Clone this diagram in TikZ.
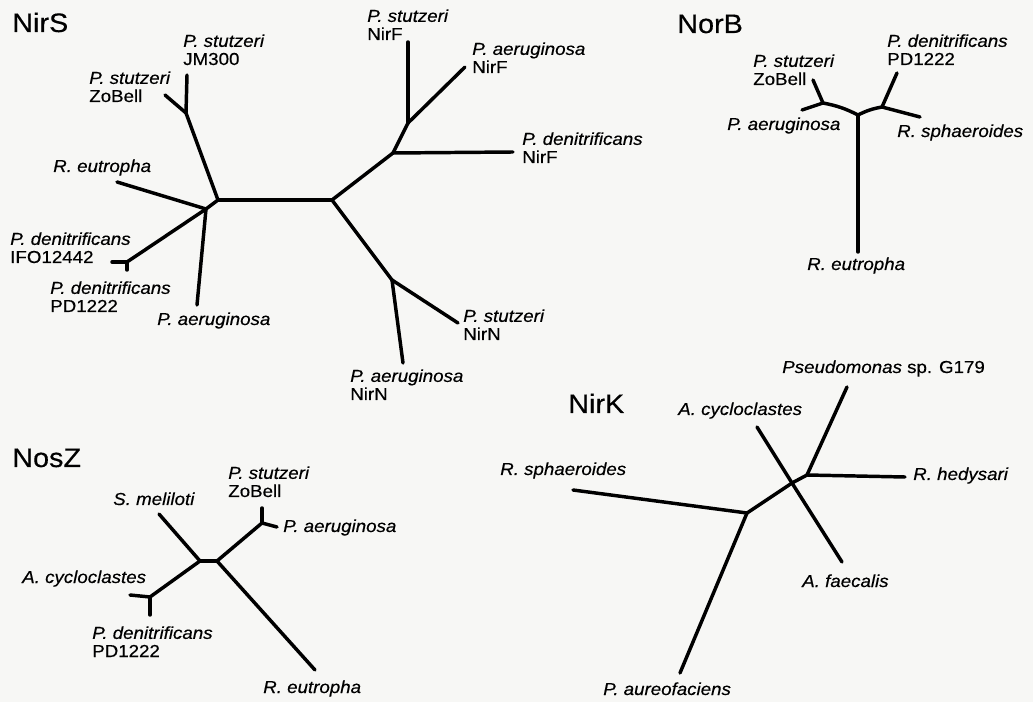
\documentclass[tikz,border=0pt]{standalone}
\usepackage{fontspec}
\setmainfont[FakeStretch=1.08,FakeBold=0.4]{Liberation Sans}
\definecolor{paper}{RGB}{247,247,245}
\begin{document}
\begin{tikzpicture}[x=0.75pt,y=-0.75pt,
  branch/.style={line width=2.6pt, line cap=round, line join=round},
  sp/.style={anchor=base west, inner sep=0pt, align=left,
    font=\fontsize{13}{13.6}\selectfont},
  title/.style={anchor=base west, inner sep=0pt,
    font=\fontsize{20}{22}\selectfont}]
\fill[paper] (0,0) rectangle (1033,702);
\useasboundingbox (0,0) rectangle (1033,702);

% ---------------- NirS ----------------
\node[title] (tNirS) at (12,32) {NirS};
\coordinate (A) at (218,200);
\coordinate (B) at (206,209);
\coordinate (C) at (332,200);
\coordinate (Sj) at (186,113);
\coordinate (tJM) at (187,75);
\coordinate (tZo) at (165,95);
\coordinate (tRe) at (117,182);
\coordinate (Dj) at (127,262);
\coordinate (tIFO) at (112,262);
\coordinate (tPD) at (127,270);
\coordinate (tPa) at (197,305);
\coordinate (D) at (393,153);
\coordinate (tDnF) at (513,152);
\coordinate (E) at (408,123);
\coordinate (tSnF) at (408,42);
\coordinate (tPanF) at (465,67);
\coordinate (F) at (392,280);
\coordinate (tSnN) at (458,323);
\coordinate (tPaN) at (403,363);
\draw[branch] (A) -- (C);
\draw[branch] (A) -- (B);
\draw[branch] (A) -- (Sj);
\draw[branch] (Sj) -- (tJM);
\draw[branch] (Sj) -- (tZo);
\draw[branch] (B) -- (tRe);
\draw[branch] (B) -- (Dj);
\draw[branch] (Dj) -- (tIFO);
\draw[branch] (Dj) -- (tPD);
\draw[branch] (B) -- (tPa);
\draw[branch] (C) -- (D);
\draw[branch] (D) -- (tDnF);
\draw[branch] (D) -- (E);
\draw[branch] (E) -- (tSnF);
\draw[branch] (E) -- (tPanF);
\draw[branch] (C) -- (F);
\draw[branch] (F) -- (tSnN);
\draw[branch] (F) -- (tPaN);
% two-line labels are placed by the baseline of their second line
\node[sp] (lJM) at (183,65) {\textit{P. stutzeri}\\JM300};
\node[sp] (lZo) at (89,102) {\textit{P. stutzeri}\\ZoBell};
\node[sp] (lRe) at (53,172) {\textit{R. eutropha}};
\node[sp] (lIFO) at (10,263) {\textit{P. denitrificans}\\IFO12442};
\node[sp] (lPD) at (50,312) {\textit{P. denitrificans}\\PD1222};
\node[sp] (lPa) at (157,325) {\textit{P. aeruginosa}};
\node[sp] (lSnF) at (367,40) {\textit{P. stutzeri}\\NirF};
\node[sp] (lPanF) at (472,73) {\textit{P. aeruginosa}\\NirF};
\node[sp] (lDnF) at (522,163) {\textit{P. denitrificans}\\NirF};
\node[sp] (lSnN) at (463,340) {\textit{P. stutzeri}\\NirN};
\node[sp] (lPaN) at (350,400) {\textit{P. aeruginosa}\\NirN};

% ---------------- NorB ----------------
\node[title] (tNorB) at (677,33) {NorB};
\coordinate (G) at (858,115);
\coordinate (tRe2) at (858,252);
\coordinate (H) at (823,103);
\coordinate (tZo2) at (813,80);
\coordinate (tPa2) at (802,110);
\coordinate (I) at (882,107);
\coordinate (tPD2) at (897,73);
\coordinate (tRs2) at (920,117);
\draw[branch] (G) -- (tRe2);
\draw[branch] (G) to[bend right=8] (H);
\draw[branch] (G) to[bend left=8] (I);
\draw[branch] (H) -- (tZo2);
\draw[branch] (H) -- (tPa2);
\draw[branch] (I) -- (tPD2);
\draw[branch] (I) -- (tRs2);
\node[sp] (lZo2) at (753,85) {\textit{P. stutzeri}\\ZoBell};
\node[sp] (lPD2) at (887,65) {\textit{P. denitrificans}\\PD1222};
\node[sp] (lPa2) at (727,130) {\textit{P. aeruginosa}};
\node[sp] (lRs2) at (897,137) {\textit{R. sphaeroides}};
\node[sp] (lRe2) at (807,270) {\textit{R. eutropha}};

% ---------------- NosZ ----------------
\node[title] (tNosZ) at (12,467) {NosZ};
\coordinate (J) at (200,561);
\coordinate (K) at (217,561);
\coordinate (tSm) at (159,514);
\coordinate (L) at (150,597);
\coordinate (tAc) at (130,595);
\coordinate (tPD3) at (150,615);
\coordinate (M) at (262,523);
\coordinate (tSz3) at (262,508);
\coordinate (tPa3) at (277,527);
\coordinate (tRe3) at (315,670);
\draw[branch] (J) -- (K);
\draw[branch] (J) -- (tSm);
\draw[branch] (J) -- (L);
\draw[branch] (L) -- (tAc);
\draw[branch] (L) -- (tPD3);
\draw[branch] (K) -- (M);
\draw[branch] (M) -- (tSz3);
\draw[branch] (M) -- (tPa3);
\draw[branch] (K) -- (tRe3);
\node[sp] (lSm) at (113,505) {\textit{S. meliloti}};
\node[sp] (lSz3) at (228,497) {\textit{P. stutzeri}\\ZoBell};
\node[sp] (lPa3) at (283,532) {\textit{P. aeruginosa}};
\node[sp] (lAc) at (22,583) {\textit{A. cycloclastes}};
\node[sp] (lPD3) at (92,657) {\textit{P. denitrificans}\\PD1222};
\node[sp] (lRe3) at (263,693) {\textit{R. eutropha}};

% ---------------- NirK ----------------
\node[title] (tNirK) at (568,413) {NirK};
\coordinate (N) at (747,513);
\coordinate (O) at (792,483);
\coordinate (P) at (807,475);
\coordinate (tRs4) at (573,490);
\coordinate (tPau) at (680,673);
\coordinate (tAc4) at (757,427);
\coordinate (tAf) at (842,562);
\coordinate (tPs) at (847,387);
\coordinate (tRh) at (905,477);
\draw[branch] (N) -- (tRs4);
\draw[branch] (N) -- (tPau);
\draw[branch] (N) -- (O);
\draw[branch] (O) -- (tAc4);
\draw[branch] (O) -- (tAf);
\draw[branch] (O) -- (P);
\draw[branch] (P) -- (tPs);
\draw[branch] (P) -- (tRh);
\node[sp] (lPs) at (782,373) {\textit{Pseudomonas} sp. G179};
\node[sp] (lAc4) at (678,415) {\textit{A. cycloclastes}};
\node[sp] (lRs4) at (500,475) {\textit{R. sphaeroides}};
\node[sp] (lRh) at (913,480) {\textit{R. hedysari}};
\node[sp] (lAf) at (802,587) {\textit{A. faecalis}};
\node[sp] (lPau) at (603,695) {\textit{P. aureofaciens}};
\end{tikzpicture}
\end{document}
